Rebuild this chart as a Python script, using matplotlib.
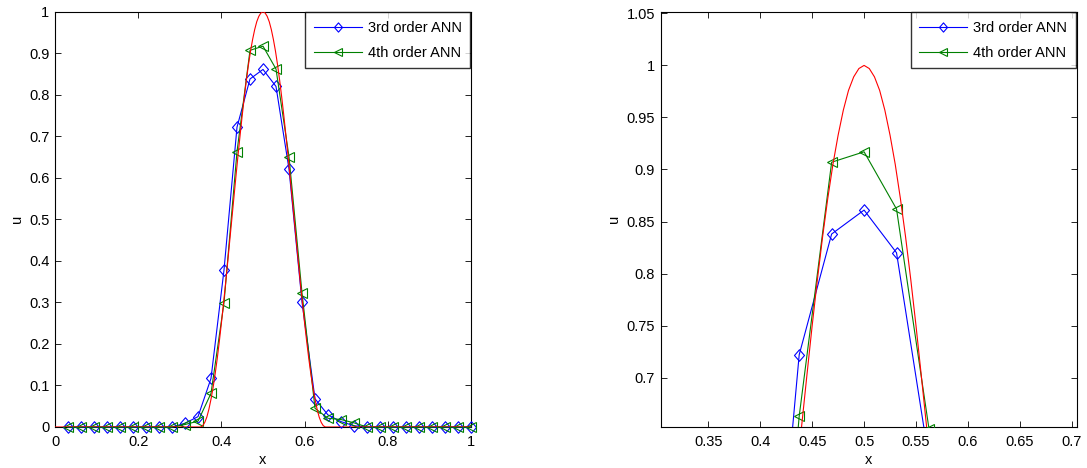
import numpy as np
import matplotlib
matplotlib.use("Agg")
import matplotlib.pyplot as plt
from matplotlib.path import Path
from matplotlib.ticker import FuncFormatter, FixedLocator

plt.rcParams['font.family'] = ['Liberation Sans', 'DejaVu Sans']

# Grid nodes (dx = 1/32)
x_nodes = np.arange(1, 33) / 32.0

# 3rd order ANN solution at the nodes
u_ann3 = [0, 0, 0, 0, 0, 0, 0, 0, 0,
          0.009, 0.025, 0.117, 0.378, 0.722, 0.838, 0.861, 0.820, 0.621,
          0.301, 0.068, 0.029, 0.013, 0.003,
          0, 0, 0, 0, 0, 0, 0, 0, 0]

# 4th order ANN solution at the nodes
u_ann4 = [0, 0, 0, 0, 0, 0, 0, 0, 0,
          0.006, 0.014, 0.081, 0.299, 0.663, 0.907, 0.917, 0.862, 0.651,
          0.323, 0.045, 0.021, 0.018, 0.010,
          0, 0, 0, 0, 0, 0, 0, 0, 0]

# Exact pulse, sampled on a fine grid across its support, flat zero elsewhere
x_exact = np.concatenate([[0.0], np.round(np.arange(0.35, 0.65001, 0.005), 3), [1.0]])
u_exact = [0.0,
           0.000, 0.003, 0.011, 0.024, 0.043, 0.067, 0.095, 0.128, 0.165, 0.206,
           0.250, 0.297, 0.345, 0.396, 0.448, 0.500, 0.552, 0.604, 0.655, 0.703,
           0.750, 0.794, 0.835, 0.872, 0.905, 0.933, 0.957, 0.976, 0.989, 0.997,
           1.000,
           0.997, 0.989, 0.976, 0.957, 0.933, 0.905, 0.872, 0.835, 0.794, 0.750,
           0.703, 0.655, 0.604, 0.552, 0.500, 0.448, 0.396, 0.345, 0.297, 0.250,
           0.206, 0.165, 0.128, 0.095, 0.067, 0.043, 0.024, 0.011, 0.003, 0.000,
           0.0]

labels = ['3rd order ANN', '4th order ANN']

# slightly tall diamond marker
diamond = Path([(0, 1), (0.87, 0), (0, -1), (-0.87, 0), (0, 1)],
               [Path.MOVETO, Path.LINETO, Path.LINETO, Path.LINETO, Path.CLOSEPOLY])

W, H = 1087, 468
fig = plt.figure(figsize=(W / 100, H / 100), dpi=100)

def px_axes(x0, y0, x1, y1):
    return fig.add_axes([x0 / W, 1 - y1 / H, (x1 - x0) / W, (y1 - y0) / H])

ax1 = px_axes(55, 11.7, 471, 427)
ax2 = px_axes(660.7, 11.7, 1076.7, 427)

fmt = FuncFormatter(lambda v, p: ('%g' % round(v, 4)))
FS = 10.5

def draw(ax):
    ax.plot(x_nodes, u_ann3, color='blue', lw=0.8, marker=diamond, ms=8.3,
            mfc='none', mec='blue', mew=0.8, label=labels[0], clip_on=False, zorder=3)
    ax.plot(x_nodes, u_ann4, color=(0, 0.5, 0), lw=0.8, marker='<', ms=7.8,
            mfc='none', mec=(0, 0.5, 0), mew=0.8, label=labels[1], clip_on=False, zorder=4)
    ax.plot(x_exact, u_exact, color='red', lw=0.8, zorder=5)
    ax.tick_params(direction='in', length=4, width=0.6, top=True, right=True,
                   labelsize=FS, colors='black')
    ax.tick_params(axis='x', pad=6)
    ax.tick_params(axis='y', pad=4)
    for s in ax.spines.values():
        s.set_linewidth(0.8)
    ax.xaxis.set_major_formatter(fmt)
    ax.yaxis.set_major_formatter(fmt)
    ax.set_xlabel('x', fontsize=FS, labelpad=3)
    ax.set_ylabel('u', fontsize=FS, labelpad=4)
    leg = ax.legend(loc='upper right', fontsize=FS, frameon=True, fancybox=False,
                    edgecolor='black', borderaxespad=0.05, handlelength=3.3,
                    handletextpad=0.4, borderpad=0.6, labelspacing=0.72,
                    markerscale=0.8)
    leg.get_frame().set_linewidth(1.0)

draw(ax1)
ax1.set_xlim(0, 1)
ax1.set_ylim(0, 1)
ax1.xaxis.set_major_locator(FixedLocator(np.arange(0, 1.01, 0.2)))
ax1.yaxis.set_major_locator(FixedLocator(np.arange(0, 1.01, 0.1)))

draw(ax2)
for ln in ax2.lines:
    ln.set_clip_on(True)
ax2.set_xlim(0.3041, 0.7048)
ax2.set_ylim(0.6526, 1.0516)
ax2.xaxis.set_major_locator(FixedLocator(np.arange(0.35, 0.701, 0.05)))
ax2.yaxis.set_major_locator(FixedLocator(np.arange(0.7, 1.051, 0.05)))

fig.savefig('out.png', dpi=100)
